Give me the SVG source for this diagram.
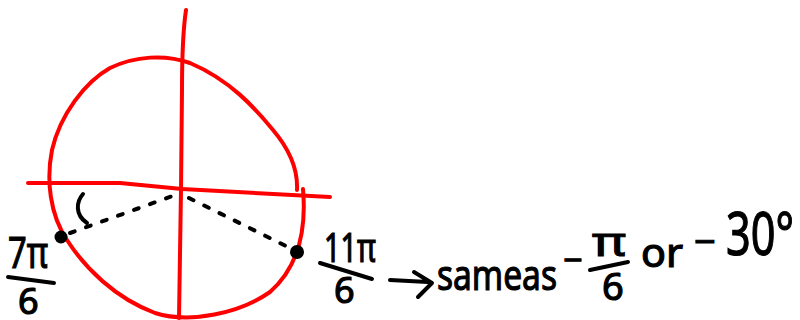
<svg xmlns="http://www.w3.org/2000/svg" width="800" height="320" viewBox="0 0 800 320">
<style>
.red{fill:none;stroke:#ff0000;stroke-width:4;stroke-linecap:round;stroke-linejoin:round}
.ink{fill:none;stroke:#000;stroke-width:4;stroke-linecap:round;stroke-linejoin:round}
.dash{fill:none;stroke:#000;stroke-width:4;stroke-linecap:round;stroke-dasharray:5 12}
.t{font-family:"Noto Sans","DejaVu Sans",sans-serif;fill:#000;stroke:#000;stroke-width:1.2}
</style>
<rect width="800" height="320" fill="#fff"/>
<g id="unit-circle">
<path class="red" d="M297,190 C298,170 290,150 273,130 C255,108 230,80 190,63 C165,54 135,56 110,68 C85,82 60,115 52,150 C46,180 50,215 67,240 C85,268 115,298 155,313 C190,324 240,313 270,292 C295,270 307,235 303,189"/>
</g>
<g id="axes">
<path class="red" d="M186,10 C183,30 182,50 182,90 L181,190 L179,318"/>
<path class="red" d="M28,183 L120,183 L182,189 L330,197"/>
</g>
<g id="connectors">
<path class="dash" d="M70,233 L181,193"/>
<path class="dash" d="M189,198 L290,248"/>
<path class="ink" d="M83,194 C76,202 75,215 87,223"/>
</g>
<g id="point-7pi6">
<circle cx="61" cy="237" r="6.5" fill="#000"/>
<text class="t" x="8" y="268" font-size="44" textLength="40" lengthAdjust="spacingAndGlyphs">7π</text>
<line class="ink" x1="8" y1="277" x2="54" y2="283"/>
<text class="t" x="18" y="314" font-size="36">6</text>
</g>
<g id="point-11pi6">
<circle cx="297" cy="252" r="7" fill="#000"/>
<text class="t" x="324" y="262" font-size="40" textLength="52" lengthAdjust="spacingAndGlyphs">11π</text>
<line class="ink" x1="320" y1="263" x2="372" y2="279"/>
<text class="t" x="334" y="303" font-size="36">6</text>
</g>
<g id="note">
<path class="ink" d="M390,280 L428,282 M414,272 L432,283 L418,297"/>
<text class="t" x="437" y="290" font-size="42" textLength="120" lengthAdjust="spacingAndGlyphs">sameas</text>
<text class="t" x="563" y="272" font-size="34">−</text>
<text class="t" x="592" y="256" font-size="40" textLength="34" lengthAdjust="spacingAndGlyphs">π</text>
<line class="ink" x1="590" y1="270" x2="628" y2="262"/>
<text class="t" x="602" y="300" font-size="38">6</text>
<text class="t" x="641" y="267" font-size="40" textLength="42" lengthAdjust="spacingAndGlyphs">or</text>
<text class="t" x="694" y="255" font-size="38">−</text>
<text class="t" x="726" y="255" font-size="60" textLength="68" lengthAdjust="spacingAndGlyphs">30°</text>
</g>
</svg>
